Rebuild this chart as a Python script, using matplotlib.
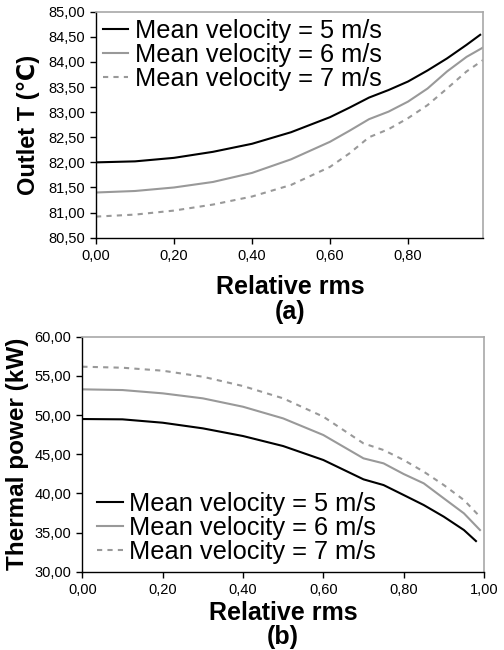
import numpy as np
import matplotlib
matplotlib.use('Agg')
import matplotlib.pyplot as plt
from matplotlib.ticker import FuncFormatter, MultipleLocator

plt.rcParams['font.family'] = ['Liberation Sans', 'DejaVu Sans']

# (a) outlet temperature vs relative rms
rms_a = [0.0, 0.1, 0.2, 0.3, 0.4, 0.5, 0.6, 0.65, 0.7, 0.75, 0.8, 0.85, 0.9, 0.95, 0.985]
t_v5 = [82.00, 82.02, 82.09, 82.21, 82.37, 82.60, 82.90, 83.09, 83.29, 83.44, 83.61, 83.83, 84.07, 84.34, 84.54]
rms_a2 = [0.0, 0.1, 0.2, 0.3, 0.4, 0.5, 0.6, 0.65, 0.7, 0.75, 0.8, 0.85, 0.9, 0.95, 0.993]
t_v6 = [81.40, 81.43, 81.50, 81.61, 81.79, 82.06, 82.41, 82.63, 82.86, 83.01, 83.21, 83.47, 83.81, 84.10, 84.29]
t_v7 = [80.92, 80.96, 81.04, 81.16, 81.32, 81.55, 81.91, 82.18, 82.50, 82.66, 82.88, 83.14, 83.47, 83.81, 84.04]

# (b) thermal power vs relative rms
rms_b = [0.0, 0.1, 0.2, 0.3, 0.4, 0.5, 0.6, 0.7, 0.75, 0.8, 0.85, 0.9, 0.95, 0.98]
p_v5 = [49.49, 49.45, 49.02, 48.30, 47.32, 46.04, 44.26, 41.79, 41.06, 39.79, 38.51, 37.02, 35.32, 33.91]
rms_b2 = [0.0, 0.1, 0.2, 0.3, 0.4, 0.5, 0.6, 0.7, 0.75, 0.8, 0.85, 0.9, 0.95, 0.99]
p_v6 = [53.28, 53.19, 52.77, 52.13, 51.06, 49.57, 47.45, 44.47, 43.83, 42.47, 41.28, 39.36, 37.45, 35.32]
p_v7 = [56.17, 56.04, 55.66, 54.89, 53.70, 52.13, 49.79, 46.38, 45.53, 44.26, 42.77, 41.06, 39.15, 37.02]

labels = ['Mean velocity = 5 m/s', 'Mean velocity = 6 m/s', 'Mean velocity = 7 m/s']

W, H = 504, 650
fig = plt.figure(figsize=(W / 100, H / 100), dpi=100)

comma = FuncFormatter(lambda v, p: ('%.2f' % v).replace('.', ','))


def style(ax):
    for s in ['top', 'right']:
        ax.spines[s].set_color('#a8a8a8')
        ax.spines[s].set_linewidth(1.2)
    for s in ['left', 'bottom']:
        ax.spines[s].set_color('black')
        ax.spines[s].set_linewidth(1.0)
    ax.tick_params(direction='out', length=4, width=1, labelsize=10.5, pad=4)
    ax.xaxis.set_major_formatter(comma)
    ax.yaxis.set_major_formatter(comma)


def draw(ax, xs, ys):
    ax.plot(xs[0], ys[0], color='black', lw=1.5, label=labels[0])
    ax.plot(xs[1], ys[1], color='#999999', lw=1.5, label=labels[1])
    ax.plot(xs[2], ys[2], color='#999999', lw=1.5, dashes=(2.5, 2.5), label=labels[2])


# top panel
ax1 = fig.add_axes([96 / W, 1 - 237.7 / H, 387.3 / W, 226 / H])
draw(ax1, [rms_a, rms_a2, rms_a2], [t_v5, t_v6, t_v7])
ax1.set_xlim(0, 0.993)
ax1.set_ylim(80.5, 85.0)
ax1.xaxis.set_major_locator(MultipleLocator(0.2))
ax1.yaxis.set_major_locator(MultipleLocator(0.5))
style(ax1)
ax1.set_ylabel('Outlet T (℃)', fontsize=17, fontweight='bold', labelpad=6)
ax1.legend(loc='upper left', frameon=False, fontsize=18.3, handlelength=1.0,
           handletextpad=0.25, labelspacing=0.0, borderaxespad=0.0,
           borderpad=0.0, bbox_to_anchor=(0.018, 0.969))
fig.text(290 / W, 1 - 286.7 / H, 'Relative rms', ha='center', va='center',
         fontsize=18, fontweight='bold')
fig.text(290 / W, 1 - 311.7 / H, '(a)', ha='center', va='center',
         fontsize=18, fontweight='bold')

# bottom panel
ax2 = fig.add_axes([82.3 / W, 1 - 571.7 / H, 401.7 / W, 235 / H])
draw(ax2, [rms_b, rms_b2, rms_b2], [p_v5, p_v6, p_v7])
ax2.set_xlim(0, 1.0)
ax2.set_ylim(30, 60)
ax2.xaxis.set_major_locator(MultipleLocator(0.2))
ax2.yaxis.set_major_locator(MultipleLocator(5))
style(ax2)
ax2.set_ylabel('Thermal power (kW)', fontsize=17.5, fontweight='bold', labelpad=4)
ax2.legend(loc='lower left', frameon=False, fontsize=18.3, handlelength=1.0,
           handletextpad=0.25, labelspacing=0.0, borderaxespad=0.0,
           borderpad=0.0, bbox_to_anchor=(0.037, 0.033))
fig.text(283 / W, 1 - 613 / H, 'Relative rms', ha='center', va='center',
         fontsize=18, fontweight='bold')
fig.text(283 / W, 1 - 636.7 / H, '(b)', ha='center', va='center',
         fontsize=18, fontweight='bold')

fig.savefig('out.png', dpi=100)
